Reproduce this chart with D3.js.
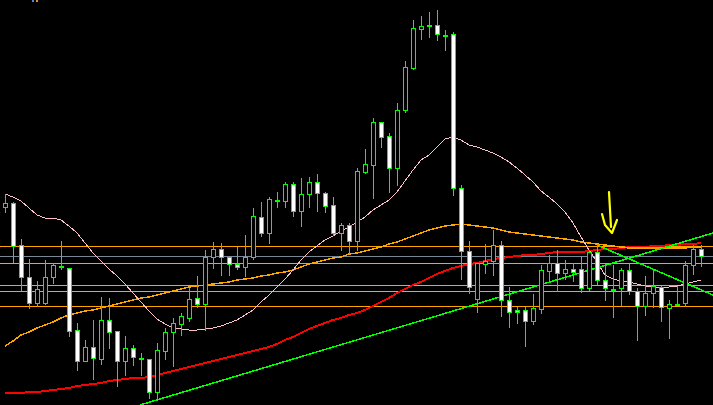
<!DOCTYPE html>
<html><head><meta charset="utf-8">
<script src="https://cdn.jsdelivr.net/npm/d3@7/dist/d3.min.js"></script>
<style>html,body{margin:0;padding:0;background:#000;overflow:hidden}</style>
</head><body>
<svg id="c" width="713" height="405"></svg>
<script>
// ---- data (price in chart points) ----
const opens  = [198,202,160,128,102,102,128,139,137,75,44,58,46,85,74,44,57,47,46,13,54,73,81,87,107,101,148,156,148,141,138,148,188,172,205,204,221,194,211,223,212,200,172,180,164,233,240,283,269,237,295,337,376,380,380,370,371,217,154,106,141,144,160,105,95,95,84,96,134,142,132,136,136,117,153,125,116,117,135,114,99,112,118,97,101,102,140,156];
const highs  = [211,203,166,146,124,145,142,164,137,82,65,85,108,107,74,69,60,52,46,62,77,87,92,117,129,155,163,162,149,158,170,197,203,208,213,223,223,227,228,231,213,208,182,182,237,256,287,283,272,302,344,385,389,393,395,375,373,220,164,142,161,175,164,118,98,98,111,140,150,155,145,142,149,155,160,140,140,137,141,117,129,136,119,105,119,144,160,160];
const lows   = [193,143,115,97,99,101,122,136,69,35,44,26,41,57,19,30,40,30,7,7,46,39,70,84,98,75,137,130,130,136,129,146,169,162,198,198,189,179,198,194,193,170,155,152,155,232,207,258,213,220,293,336,366,368,365,355,210,126,112,93,132,130,89,78,82,59,81,92,124,114,126,124,113,115,121,105,88,100,111,65,90,98,84,67,100,99,131,139];
const closes = [202,159,128,102,116,128,140,139,74,44,58,47,85,73,44,57,48,47,13,55,73,82,89,106,101,148,156,148,141,138,148,189,172,206,205,221,194,211,223,212,199,172,180,164,234,241,283,268,237,295,338,377,379,380,371,370,217,154,118,142,144,160,105,93,93,84,97,135,142,132,136,133,117,153,125,117,116,135,114,99,112,119,98,101,101,140,156,149];

const maFast = [211,208,204,197,190,187,187,185,179,172,162,152,144,136,129,121,112,103,94,86,81,77,76,75,75,76,77,79,82,85,90,95,103,110,118,126,135,145,153,159,165,169,174,178,183,188,195,200,205,213,224,235,245,250,258,266,268,265,260,258,255,252,248,243,237,230,223,214,208,201,193,182,168,155,143,130,126,124,123,121,119,118,118,118,119,121,123,125];
const maMid  = [59,64,70,73,77,80,83,87,90,92,94,95,97,99,101,103,105,107,108,110,112,114,116,118,119,120,121,122,123,125,126,127,129,130,132,133,135,138,141,143,145,147,148,151,152,154,156,158,161,163,166,169,172,175,177,179,180,181,180,179,178,177,175,173,172,171,170,169,168,167,166,165,163,162,161,160,159,158,157,157,157,157,157,157,157,157,158,158];
const maSlow = [12,12,12,13,13,14,15,16,17,19,20,21,22,24,25,26,27,27,28,30,32,34,36,38,40,42,44,46,48,50,52,54,56,58,61,65,68,72,76,79,82,85,87,90,92,95,99,103,107,112,116,120,123,127,131,134,137,139,141,142,144,146,147,148,149,150,150,151,152,153,153,153,153,154,155,156,156,157,158,158,158,159,159,160,160,161,161,162];

const levelsOrange = [159,142,120,114,99];
const levelsGray = [149];
const trendUp   = [[16.875,0],[88.5,172]];
const trendDown = [[74,160],[88.5,110]];
const arrowStem = [[75.5,213],[75.75,178]];
const arrowHead = [[74.625,191],[75,180],[75.875,172],[76.5,185]];

// ---- drawing ----
const W = 713, H = 405;
const svg = d3.select('#c');
svg.append('rect').attr('width',W).attr('height',H).attr('fill','#000');
const x = d3.scaleLinear().domain([0,87]).range([5,701]);
const y = d3.scaleLinear().domain([0,405]).range([405,0]);

svg.append('rect').attr('x',32).attr('y',0).attr('width',2).attr('height',2).attr('fill','#4a86d0');
svg.append('rect').attr('x',36).attr('y',0).attr('width',2).attr('height',2).attr('fill','#e08a30');

const hl = svg.append('g').attr('shape-rendering','crispEdges');
hl.selectAll('.lo').data(levelsOrange).join('line')
  .attr('x1',0).attr('x2',W).attr('y1',d=>Math.round(y(d))+0.5).attr('y2',d=>Math.round(y(d))+0.5)
  .attr('stroke','#ffa500').attr('stroke-width',1);
hl.selectAll('.lg').data(levelsGray).join('line')
  .attr('x1',0).attr('x2',W).attr('y1',d=>Math.round(y(d))+0.5).attr('y2',d=>Math.round(y(d))+0.5)
  .attr('stroke','#778899').attr('stroke-width',1);

const lineIdx = d3.line().x((d,i)=>x(i)).y(d=>y(d));
const mg = svg.append('g').attr('fill','none').attr('shape-rendering','crispEdges');
mg.append('path').attr('d',lineIdx(maSlow)).attr('stroke','#ff0000').attr('stroke-width',2);
mg.append('path').attr('d',lineIdx(maMid)).attr('stroke','#ffa500').attr('stroke-width',1.5);
mg.append('path').attr('d',lineIdx(maFast)).attr('stroke','#ffc0cb').attr('stroke-width',1);

const linePt = d3.line().x(d=>x(d[0])).y(d=>y(d[1]));
const tg = svg.append('g').attr('fill','none').attr('shape-rendering','crispEdges');
[trendUp, trendDown].forEach(t=>{
  tg.append('path').attr('d',linePt(t)).attr('stroke','#00ff00').attr('stroke-width',1.5);
});

const idx = d3.range(opens.length);
const cg = svg.append('g').attr('shape-rendering','crispEdges');
const cx = i => Math.round(x(i));
cg.selectAll('.wick').data(idx).join('line')
  .attr('x1',i=>cx(i)+0.5).attr('x2',i=>cx(i)+0.5)
  .attr('y1',i=>Math.round(y(highs[i]))).attr('y2',i=>Math.round(y(lows[i]))+1)
  .attr('stroke','#00ff00').attr('stroke-width',1);
cg.selectAll('.body').data(idx.filter(i=>opens[i]!==closes[i])).join('rect')
  .attr('x',i=>cx(i)-1.5).attr('width',4)
  .attr('y',i=>Math.round(y(Math.max(opens[i],closes[i])))+0.5)
  .attr('height',i=>Math.round(y(Math.min(opens[i],closes[i])))-Math.round(y(Math.max(opens[i],closes[i]))))
  .attr('fill',i=>closes[i]<opens[i]?'#ffffff':'#000000')
  .attr('stroke','#00ff00').attr('stroke-width',1);
cg.selectAll('.doji').data(idx.filter(i=>opens[i]===closes[i])).join('rect')
  .attr('x',i=>cx(i)-2).attr('width',5)
  .attr('y',i=>Math.round(y(opens[i]))).attr('height',2)
  .attr('fill','#00ff00');

const ag = svg.append('g').attr('fill','none').attr('stroke','#ffff00').attr('stroke-width',2.2)
  .attr('stroke-linecap','round').attr('stroke-linejoin','round');
ag.append('path').attr('d',linePt(arrowStem));
ag.append('path').attr('d',linePt(arrowHead));
</script>
</body></html>
